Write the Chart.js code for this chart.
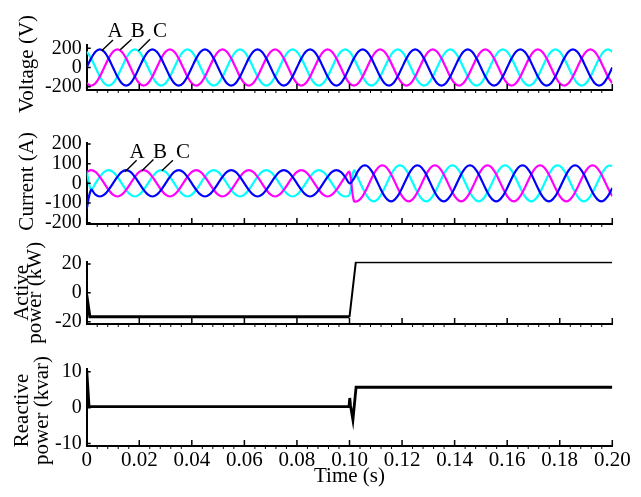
<!DOCTYPE html>
<html>
<head>
<meta charset="utf-8">
<title>Voltage, current and power</title>
<script src="https://cdn.jsdelivr.net/npm/chart.js@4.4.0/dist/chart.umd.min.js"></script>
<style>
    html, body { margin: 0; padding: 0; background: #fff; }
    #wrap { position: relative; width: 641px; height: 497px; overflow: hidden; }
    #wrap canvas { position: absolute; left: 0; top: 0; }
</style>
</head>
<body>
<div id="wrap">
    <canvas id="voltageChart" width="641" height="497"></canvas>
    <canvas id="currentChart" width="641" height="497"></canvas>
    <canvas id="activeChart" width="641" height="497"></canvas>
    <canvas id="reactiveChart" width="641" height="497"></canvas>
</div>
<script>
// ================= DATA =================

// sample instants (s), 12 per 50 Hz cycle
const time = [
    0, 0.00167, 0.00333, 0.005, 0.00667, 0.00833, 0.01, 0.01167, 0.01333, 0.015, 0.01667, 0.01833,
    0.02, 0.02167, 0.02333, 0.025, 0.02667, 0.02833, 0.03, 0.03167, 0.03333, 0.035, 0.03667, 0.03833,
    0.04, 0.04167, 0.04333, 0.045, 0.04667, 0.04833, 0.05, 0.05167, 0.05333, 0.055, 0.05667, 0.05833,
    0.06, 0.06167, 0.06333, 0.065, 0.06667, 0.06833, 0.07, 0.07167, 0.07333, 0.075, 0.07667, 0.07833,
    0.08, 0.08167, 0.08333, 0.085, 0.08667, 0.08833, 0.09, 0.09167, 0.09333, 0.095, 0.09667, 0.09833,
    0.1, 0.10167, 0.10333, 0.105, 0.10667, 0.10833, 0.11, 0.11167, 0.11333, 0.115, 0.11667, 0.11833,
    0.12, 0.12167, 0.12333, 0.125, 0.12667, 0.12833, 0.13, 0.13167, 0.13333, 0.135, 0.13667, 0.13833,
    0.14, 0.14167, 0.14333, 0.145, 0.14667, 0.14833, 0.15, 0.15167, 0.15333, 0.155, 0.15667, 0.15833,
    0.16, 0.16167, 0.16333, 0.165, 0.16667, 0.16833, 0.17, 0.17167, 0.17333, 0.175, 0.17667, 0.17833,
    0.18, 0.18167, 0.18333, 0.185, 0.18667, 0.18833, 0.19, 0.19167, 0.19333, 0.195, 0.19667, 0.19833,
    0.2
];

// phase voltages (V)
const voltageA = [
    0, 95, 165, 190, 165, 95, 0, -95, -165, -190, -165, -95,
    0, 95, 165, 190, 165, 95, 0, -95, -165, -190, -165, -95,
    0, 95, 165, 190, 165, 95, 0, -95, -165, -190, -165, -95,
    0, 95, 165, 190, 165, 95, 0, -95, -165, -190, -165, -95,
    0, 95, 165, 190, 165, 95, 0, -95, -165, -190, -165, -95,
    0, 95, 165, 190, 165, 95, 0, -95, -165, -190, -165, -95,
    0, 95, 165, 190, 165, 95, 0, -95, -165, -190, -165, -95,
    0, 95, 165, 190, 165, 95, 0, -95, -165, -190, -165, -95,
    0, 95, 165, 190, 165, 95, 0, -95, -165, -190, -165, -95,
    0, 95, 165, 190, 165, 95, 0, -95, -165, -190, -165, -95,
    0
];
const voltageB = [
    -165, -190, -165, -95, 0, 95, 165, 190, 165, 95, 0, -95,
    -165, -190, -165, -95, 0, 95, 165, 190, 165, 95, 0, -95,
    -165, -190, -165, -95, 0, 95, 165, 190, 165, 95, 0, -95,
    -165, -190, -165, -95, 0, 95, 165, 190, 165, 95, 0, -95,
    -165, -190, -165, -95, 0, 95, 165, 190, 165, 95, 0, -95,
    -165, -190, -165, -95, 0, 95, 165, 190, 165, 95, 0, -95,
    -165, -190, -165, -95, 0, 95, 165, 190, 165, 95, 0, -95,
    -165, -190, -165, -95, 0, 95, 165, 190, 165, 95, 0, -95,
    -165, -190, -165, -95, 0, 95, 165, 190, 165, 95, 0, -95,
    -165, -190, -165, -95, 0, 95, 165, 190, 165, 95, 0, -95,
    -165
];
const voltageC = [
    165, 95, 0, -95, -165, -190, -165, -95, 0, 95, 165, 190,
    165, 95, 0, -95, -165, -190, -165, -95, 0, 95, 165, 190,
    165, 95, 0, -95, -165, -190, -165, -95, 0, 95, 165, 190,
    165, 95, 0, -95, -165, -190, -165, -95, 0, 95, 165, 190,
    165, 95, 0, -95, -165, -190, -165, -95, 0, 95, 165, 190,
    165, 95, 0, -95, -165, -190, -165, -95, 0, 95, 165, 190,
    165, 95, 0, -95, -165, -190, -165, -95, 0, 95, 165, 190,
    165, 95, 0, -95, -165, -190, -165, -95, 0, 95, 165, 190,
    165, 95, 0, -95, -165, -190, -165, -95, 0, 95, 165, 190,
    165, 95, 0, -95, -165, -190, -165, -95, 0, 95, 165, 190,
    165
];

// phase currents (A), step change at 0.1 s
const currentA = [
    -130, -33, -58, -67, -58, -33, 0, 33, 58, 67, 58, 33,
    0, -33, -58, -67, -58, -33, 0, 33, 58, 67, 58, 33,
    0, -33, -58, -67, -58, -33, 0, 33, 58, 67, 58, 33,
    0, -33, -58, -67, -58, -33, 0, 33, 58, 67, 58, 33,
    0, -33, -58, -67, -58, -33, 0, 33, 58, 67, 58, 33,
    0, 24, 65, 89, 89, 65, 24, -24, -65, -89, -89, -65,
    -24, 24, 65, 89, 89, 65, 24, -24, -65, -89, -89, -65,
    -24, 24, 65, 89, 89, 65, 24, -24, -65, -89, -89, -65,
    -24, 24, 65, 89, 89, 65, 24, -24, -65, -89, -89, -65,
    -24, 24, 65, 89, 89, 65, 24, -24, -65, -89, -89, -65,
    -24
];
const currentB = [
    58, 67, 58, 33, 0, -33, -58, -67, -58, -33, 0, 33,
    58, 67, 58, 33, 0, -33, -58, -67, -58, -33, 0, 33,
    58, 67, 58, 33, 0, -33, -58, -67, -58, -33, 0, 33,
    58, 67, 58, 33, 0, -33, -58, -67, -58, -33, 0, 33,
    58, 67, 58, 33, 0, -33, -58, -67, -58, -33, 0, 33,
    58, -89, -89, -65, -24, 24, 65, 89, 89, 65, 24, -24,
    -65, -89, -89, -65, -24, 24, 65, 89, 89, 65, 24, -24,
    -65, -89, -89, -65, -24, 24, 65, 89, 89, 65, 24, -24,
    -65, -89, -89, -65, -24, 24, 65, 89, 89, 65, 24, -24,
    -65, -89, -89, -65, -24, 24, 65, 89, 89, 65, 24, -24,
    -65
];
const currentC = [
    60, -33, 0, 33, 58, 67, 58, 33, 0, -33, -58, -67,
    -58, -33, 0, 33, 58, 67, 58, 33, 0, -33, -58, -67,
    -58, -33, 0, 33, 58, 67, 58, 33, 0, -33, -58, -67,
    -58, -33, 0, 33, 58, 67, 58, 33, 0, -33, -58, -67,
    -58, -33, 0, 33, 58, 67, 58, 33, 0, -33, -58, -67,
    -58, 65, 24, -24, -65, -89, -89, -65, -24, 24, 65, 89,
    89, 65, 24, -24, -65, -89, -89, -65, -24, 24, 65, 89,
    89, 65, 24, -24, -65, -89, -89, -65, -24, 24, 65, 89,
    89, 65, 24, -24, -65, -89, -89, -65, -24, 24, 65, 89,
    89, 65, 24, -24, -65, -89, -89, -65, -24, 24, 65, 89,
    89
];

// active power (kW)
const activeTime = [0, 0.0012, 0.1, 0.1024, 0.2];
const activePower = [-1.5, -16.6, -16.6, 21.3, 21.3];

// reactive power (kvar)
const reactiveTime = [0, 0.0009, 0.0998, 0.1001, 0.1004, 0.1013, 0.1025, 0.2];
const reactivePower = [10.6, 0.3, 0.3, 2.7, 0.5, -3.4, 5.7, 5.7];

// axes
const timeTicks = [0, 0.02, 0.04, 0.06, 0.08, 0.1, 0.12, 0.14, 0.16, 0.18, 0.2];
const timeTickLabels = ['0', '0.02', '0.04', '0.06', '0.08', '0.10', '0.12', '0.14', '0.16', '0.18', '0.20'];
const voltageTicks = [200, 0, -200];
const currentTicks = [200, 100, 0, -100, -200];
const activeTicks = [20, 0, -20];
const reactiveTicks = [10, 0, -10];

const phaseNames = ['A', 'B', 'C'];
const phaseColors = ['#0000ff', '#ff00ff', '#00ffff'];

// ================= LAYOUT =================

const FONT_FAMILY = '"Liberation Serif", "Times New Roman", serif';
const PAGE_W = 641, PAGE_H = 497;
const PLOT_LEFT = 86.7, PLOT_RIGHT = 612.3;

// ================= PLUGINS =================

// inward ticks on the y axis, upward major + small hanging minor ticks on x
const axisMarks = {
    id: 'axisMarks',
    afterDraw(chart) {
        const { ctx, chartArea: area, scales: { x, y } } = chart;
        ctx.save();
        ctx.strokeStyle = '#000';
        ctx.lineWidth = 1.5;
        ctx.beginPath();
        y.ticks.forEach(t => {
            const py = y.getPixelForValue(t.value);
            ctx.moveTo(area.left, py);
            ctx.lineTo(area.left + 4, py);
        });
        timeTicks.forEach(v => {
            const px = x.getPixelForValue(v);
            ctx.moveTo(px, area.bottom);
            ctx.lineTo(px, area.bottom - 6);
        });
        ctx.stroke();

        ctx.lineWidth = 1;
        ctx.beginPath();
        for (let i = 0; i < timeTicks.length - 1; i++) {
            const step = (timeTicks[i + 1] - timeTicks[i]) / 5;
            for (let j = 1; j < 5; j++) {
                const px = x.getPixelForValue(timeTicks[i] + j * step);
                ctx.moveTo(px, area.bottom);
                ctx.lineTo(px, area.bottom + 3);
            }
        }
        ctx.stroke();
        ctx.restore();
    }
};

// rotated y-axis titles (one or two lines)
const sideTitle = {
    id: 'sideTitle',
    afterDraw(chart, args, opts) {
        if (!opts.lines) return;
        const { ctx, chartArea: area } = chart;
        const cy = (area.top + area.bottom) / 2 + (opts.dy || 0);
        ctx.save();
        ctx.fillStyle = '#000';
        ctx.font = `21px ${FONT_FAMILY}`;
        ctx.textAlign = 'center';
        ctx.textBaseline = 'middle';
        opts.lines.forEach((line, i) => {
            ctx.save();
            ctx.translate(opts.x[i], cy);
            ctx.rotate(-Math.PI / 2);
            ctx.fillText(line, 0, 0);
            ctx.restore();
        });
        ctx.restore();
    }
};

// "A B C" phase markers with leader lines, placed in data units
const phaseLabels = {
    id: 'phaseLabels',
    afterDatasetsDraw(chart, args, opts) {
        if (!opts.items) return;
        const { ctx, scales: { x, y } } = chart;
        ctx.save();
        ctx.font = `21px ${FONT_FAMILY}`;
        ctx.fillStyle = '#000';
        ctx.strokeStyle = '#000';
        ctx.lineWidth = 1.4;
        ctx.textAlign = 'center';
        ctx.textBaseline = 'middle';
        opts.items.forEach(it => {
            ctx.beginPath();
            ctx.moveTo(x.getPixelForValue(it.from[0]), y.getPixelForValue(it.from[1]));
            ctx.lineTo(x.getPixelForValue(it.to[0]), y.getPixelForValue(it.to[1]));
            ctx.stroke();
            ctx.fillText(it.text, x.getPixelForValue(it.at[0]), y.getPixelForValue(it.at[1]));
        });
        ctx.restore();
    }
};

// ================= CHARTS =================

function phaseDatasets(series) {
    return series.map((values, i) => ({
        label: phaseNames[i],
        data: values.map((v, k) => ({ x: time[k], y: v })),
        borderColor: phaseColors[i],
        borderWidth: 2.2,
        pointRadius: 0,
        tension: 0.35,
        fill: false
    }));
}

function powerDataset(times, values, widthBefore, widthAfter) {
    return [{
        data: values.map((v, k) => ({ x: times[k], y: v })),
        borderColor: '#000',
        borderWidth: widthAfter,
        segment: {
            borderWidth: c => (c.p1.parsed.x <= 0.1 ? widthBefore : widthAfter)
        },
        pointRadius: 0,
        tension: 0,
        fill: false
    }];
}

function makeChart(panel) {
    const tickFont = { family: FONT_FAMILY, size: 20 };
    const labelFont = { family: FONT_FAMILY, size: 21 };

    return new Chart(document.getElementById(panel.id), {
        type: 'line',
        data: { datasets: panel.datasets },
        options: {
            responsive: false,
            animation: false,
            events: [],
            layout: { padding: { top: panel.top, right: PAGE_W - PLOT_RIGHT, bottom: 0, left: 0 } },
            plugins: {
                legend: { display: false },
                tooltip: { enabled: false },
                sideTitle: { lines: panel.title, x: panel.titleX, dy: panel.titleDy },
                phaseLabels: { items: panel.phaseLabels }
            },
            scales: {
                x: {
                    type: 'linear',
                    min: 0,
                    max: 0.2,
                    grid: { display: false, drawTicks: false },
                    border: { display: true, color: '#000', width: 2 },
                    afterBuildTicks: s => { s.ticks = timeTicks.map(v => ({ value: v })); },
                    ticks: {
                        display: !!panel.showTime,
                        autoSkip: false,
                        maxRotation: 0,
                        padding: 2,
                        color: '#000',
                        font: labelFont,
                        callback: (v, i) => timeTickLabels[i]
                    },
                    title: {
                        display: !!panel.showTime,
                        text: 'Time (s)',
                        color: '#000',
                        font: labelFont,
                        padding: { top: 0, bottom: 8.4 }
                    },
                    afterFit: s => { s.height = PAGE_H - panel.bottom; }
                },
                y: {
                    min: panel.min,
                    max: panel.max,
                    grid: { display: false, drawTicks: false },
                    border: { display: true, color: '#000', width: 2 },
                    afterBuildTicks: s => { s.ticks = panel.ticks.map(v => ({ value: v })); },
                    ticks: {
                        autoSkip: false,
                        padding: 5,
                        color: '#000',
                        font: tickFont,
                        callback: v => String(v)
                    },
                    afterFit: s => { s.width = PLOT_LEFT; }
                }
            }
        },
        plugins: [axisMarks, sideTitle, phaseLabels]
    });
}

// ================= MAIN =================

const panels = [
    {
        id: 'voltageChart', top: 45, bottom: 90, min: -235, max: 235, ticks: voltageTicks,
        title: ['Voltage (V)'], titleX: [27.5], titleDy: -3.5,
        datasets: phaseDatasets([voltageA, voltageB, voltageC]),
        phaseLabels: [
            { text: 'A', at: [0.0108, 376], from: [0.0100, 287], to: [0.0057, 176] },
            { text: 'B', at: [0.0194, 376], from: [0.0171, 295], to: [0.0127, 184] },
            { text: 'C', at: [0.0279, 376], from: [0.0241, 295], to: [0.0197, 176] }
        ]
    },
    {
        id: 'currentChart', top: 142.7, bottom: 224, min: -207, max: 207, ticks: currentTicks,
        title: ['Current (A)'], titleX: [27], titleDy: -2,
        datasets: phaseDatasets([currentA, currentB, currentC]),
        phaseLabels: [
            { text: 'A', at: [0.0192, 159], from: [0.0190, 118], to: [0.0146, 59] },
            { text: 'B', at: [0.0279, 159], from: [0.0254, 122], to: [0.0210, 64] },
            { text: 'C', at: [0.0366, 159], from: [0.0328, 118], to: [0.0286, 64] }
        ]
    },
    {
        id: 'activeChart', top: 261.7, bottom: 324, min: -21.6, max: 21.6, ticks: activeTicks,
        title: ['Active', 'power (kW)'], titleX: [22.5, 35.5], titleDy: 0,
        datasets: powerDataset(activeTime, activePower, 3, 2)
    },
    {
        id: 'reactiveChart', top: 369, bottom: 446, min: -10.7, max: 10.8, ticks: reactiveTicks,
        title: ['Reactive', 'power (kvar)'], titleX: [22.5, 42.3], titleDy: 3,
        datasets: powerDataset(reactiveTime, reactivePower, 2.8, 2.8),
        showTime: true
    }
];

panels.forEach(makeChart);
</script>
</body>
</html>
